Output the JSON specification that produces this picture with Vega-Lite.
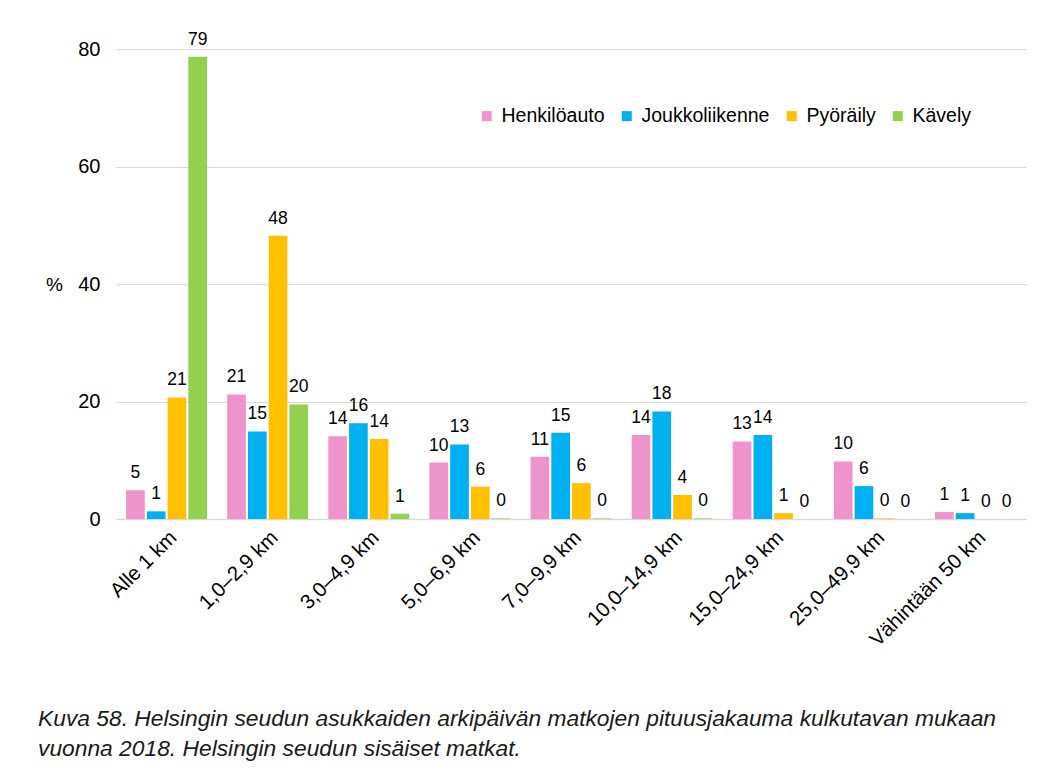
{
  "$schema": "https://vega.github.io/schema/vega-lite/v6.json",
  "autosize": {"type": "none"},
  "width": 910,
  "height": 470,
  "padding": {"left": 116, "top": 49, "right": 37, "bottom": 260},
  "background": "white",
  "config": {
    "font": "Liberation Sans",
    "view": {"stroke": null}
  },
  "title": {
    "text": [
      "Kuva 58. Helsingin seudun asukkaiden arkipäivän matkojen pituusjakauma kulkutavan mukaan",
      "vuonna 2018. Helsingin seudun sisäiset matkat."
    ],
    "orient": "bottom",
    "anchor": "start",
    "frame": "group",
    "dx": -78,
    "offset": 58,
    "fontSize": 22.8,
    "fontStyle": "italic",
    "fontWeight": "normal",
    "lineHeight": 30,
    "color": "#1a1a1a",
    "font": "Liberation Sans"
  },
  "data": {
    "values": [
      {"matka": "Alle 1 km", "kulkutapa": "Henkilöauto", "osuus": 4.9},
      {"matka": "Alle 1 km", "kulkutapa": "Joukkoliikenne", "osuus": 1.3},
      {"matka": "Alle 1 km", "kulkutapa": "Pyöräily", "osuus": 20.7},
      {"matka": "Alle 1 km", "kulkutapa": "Kävely", "osuus": 78.7},
      {"matka": "1,0–2,9 km", "kulkutapa": "Henkilöauto", "osuus": 21.2},
      {"matka": "1,0–2,9 km", "kulkutapa": "Joukkoliikenne", "osuus": 14.9},
      {"matka": "1,0–2,9 km", "kulkutapa": "Pyöräily", "osuus": 48.2},
      {"matka": "1,0–2,9 km", "kulkutapa": "Kävely", "osuus": 19.5},
      {"matka": "3,0–4,9 km", "kulkutapa": "Henkilöauto", "osuus": 14.1},
      {"matka": "3,0–4,9 km", "kulkutapa": "Joukkoliikenne", "osuus": 16.3},
      {"matka": "3,0–4,9 km", "kulkutapa": "Pyöräily", "osuus": 13.6},
      {"matka": "3,0–4,9 km", "kulkutapa": "Kävely", "osuus": 0.9},
      {"matka": "5,0–6,9 km", "kulkutapa": "Henkilöauto", "osuus": 9.6},
      {"matka": "5,0–6,9 km", "kulkutapa": "Joukkoliikenne", "osuus": 12.7},
      {"matka": "5,0–6,9 km", "kulkutapa": "Pyöräily", "osuus": 5.5},
      {"matka": "5,0–6,9 km", "kulkutapa": "Kävely", "osuus": 0.1},
      {"matka": "7,0–9,9 km", "kulkutapa": "Henkilöauto", "osuus": 10.6},
      {"matka": "7,0–9,9 km", "kulkutapa": "Joukkoliikenne", "osuus": 14.7},
      {"matka": "7,0–9,9 km", "kulkutapa": "Pyöräily", "osuus": 6.1},
      {"matka": "7,0–9,9 km", "kulkutapa": "Kävely", "osuus": 0.1},
      {"matka": "10,0–14,9 km", "kulkutapa": "Henkilöauto", "osuus": 14.3},
      {"matka": "10,0–14,9 km", "kulkutapa": "Joukkoliikenne", "osuus": 18.3},
      {"matka": "10,0–14,9 km", "kulkutapa": "Pyöräily", "osuus": 4.1},
      {"matka": "10,0–14,9 km", "kulkutapa": "Kävely", "osuus": 0.1},
      {"matka": "15,0–24,9 km", "kulkutapa": "Henkilöauto", "osuus": 13.2},
      {"matka": "15,0–24,9 km", "kulkutapa": "Joukkoliikenne", "osuus": 14.3},
      {"matka": "15,0–24,9 km", "kulkutapa": "Pyöräily", "osuus": 1.0},
      {"matka": "15,0–24,9 km", "kulkutapa": "Kävely", "osuus": 0.0},
      {"matka": "25,0–49,9 km", "kulkutapa": "Henkilöauto", "osuus": 9.8},
      {"matka": "25,0–49,9 km", "kulkutapa": "Joukkoliikenne", "osuus": 5.6},
      {"matka": "25,0–49,9 km", "kulkutapa": "Pyöräily", "osuus": 0.1},
      {"matka": "25,0–49,9 km", "kulkutapa": "Kävely", "osuus": 0.0},
      {"matka": "Vähintään 50 km", "kulkutapa": "Henkilöauto", "osuus": 1.2},
      {"matka": "Vähintään 50 km", "kulkutapa": "Joukkoliikenne", "osuus": 1.0},
      {"matka": "Vähintään 50 km", "kulkutapa": "Pyöräily", "osuus": 0.0},
      {"matka": "Vähintään 50 km", "kulkutapa": "Kävely", "osuus": 0.0}
    ]
  },
  "encoding": {
    "x": {
      "field": "matka",
      "type": "nominal",
      "sort": null,
      "scale": {"paddingInner": 0.2, "paddingOuter": 0.1},
      "axis": {
        "title": null,
        "labelAngle": -45,
        "labelFontSize": 20.5,
        "labelColor": "#000000",
        "labelPadding": 8,
        "labelDx": -4,
        "ticks": false,
        "domainColor": "#d9d9d9",
        "domainWidth": 1.5,
        "grid": false
      }
    },
    "xOffset": {
      "field": "kulkutapa",
      "type": "nominal",
      "sort": ["Henkilöauto", "Joukkoliikenne", "Pyöräily", "Kävely"],
      "scale": {"paddingInner": 0.1}
    },
    "y": {
      "field": "osuus",
      "type": "quantitative",
      "scale": {"domain": [0, 80]},
      "axis": {
        "title": "%",
        "titleAngle": 0,
        "titleFontSize": 19,
        "titleFontWeight": "normal",
        "titleColor": "#000000",
        "titleX": -62,
        "titleY": 235,
        "titleAlign": "center",
        "titleBaseline": "middle",
        "values": [0, 20, 40, 60, 80],
        "labelFontSize": 20,
        "labelColor": "#000000",
        "labelPadding": 16,
        "ticks": false,
        "domain": false,
        "gridColor": "#d9d9d9",
        "gridWidth": 1
      }
    }
  },
  "layer": [
    {
      "mark": {"type": "bar"},
      "encoding": {
        "color": {
          "field": "kulkutapa",
          "type": "nominal",
          "sort": ["Henkilöauto", "Joukkoliikenne", "Pyöräily", "Kävely"],
          "scale": {
            "domain": ["Henkilöauto", "Joukkoliikenne", "Pyöräily", "Kävely"],
            "range": ["#ee93cb", "#00b0f0", "#ffc000", "#92d050"]
          },
          "legend": {
            "title": null,
            "orient": "none",
            "direction": "horizontal",
            "legendX": 361,
            "legendY": 57,
            "symbolType": "square",
            "symbolSize": 100,
            "symbolStrokeWidth": 0,
            "labelFontSize": 19.5,
            "labelColor": "#000000",
            "labelOffset": 5,
            "columnPadding": 12
          }
        }
      }
    },
    {
      "mark": {
        "type": "text",
        "baseline": "alphabetic",
        "dy": -12,
        "fontSize": 17.5,
        "color": "#000000"
      },
      "encoding": {
        "text": {"field": "osuus", "type": "quantitative", "format": ".0f"}
      }
    }
  ]
}
